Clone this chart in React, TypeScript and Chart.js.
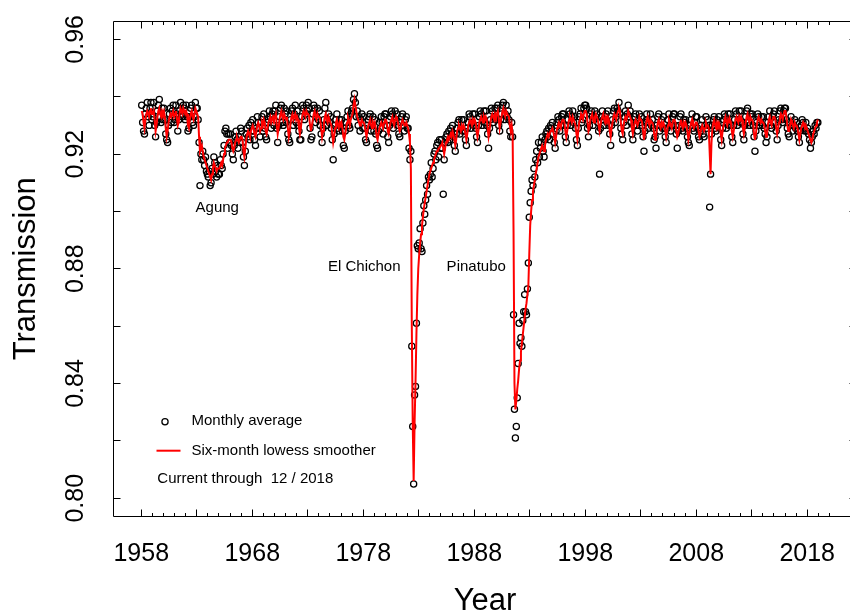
import React, { useEffect, useRef } from 'react';
import { Chart, registerables } from 'chart.js';

Chart.register(...registerables);

const START_YEAR = 1958;

// Monthly average transmission, one row per year (Jan..Dec)
const monthly1958to1967 = [
  0.937, 0.931, 0.928, 0.927, 0.934, 0.936, 0.938, 0.933, 0.930, 0.936, 0.938, 0.932,
  0.933, 0.938, 0.930, 0.926, 0.931, 0.935, 0.937, 0.939, 0.933, 0.931, 0.936, 0.932,
  0.936, 0.932, 0.927, 0.925, 0.924, 0.930, 0.934, 0.936, 0.931, 0.935, 0.937, 0.931,
  0.932, 0.937, 0.934, 0.928, 0.932, 0.935, 0.938, 0.934, 0.933, 0.937, 0.936, 0.932,
  0.937, 0.933, 0.928, 0.929, 0.933, 0.936, 0.937, 0.931, 0.930, 0.933, 0.938, 0.936,
  0.936, 0.932, 0.924, 0.909, 0.920, 0.918, 0.921, 0.918, 0.916, 0.919, 0.914, 0.913,
  0.912, 0.914, 0.909, 0.910, 0.915, 0.913, 0.919, 0.917, 0.914, 0.912, 0.916, 0.913,
  0.913, 0.918, 0.916, 0.915, 0.920, 0.923, 0.928, 0.929, 0.927, 0.922, 0.927, 0.924,
  0.927, 0.923, 0.920, 0.918, 0.923, 0.926, 0.928, 0.925, 0.922, 0.926, 0.924, 0.929,
  0.928, 0.924, 0.919, 0.916, 0.921, 0.927, 0.929, 0.926, 0.930, 0.925, 0.931, 0.928,
];
const monthly1968to1977 = [
  0.932, 0.928, 0.925, 0.923, 0.929, 0.933, 0.931, 0.929, 0.926, 0.931, 0.933, 0.928,
  0.934, 0.929, 0.926, 0.925, 0.931, 0.932, 0.935, 0.933, 0.929, 0.934, 0.935, 0.930,
  0.935, 0.937, 0.929, 0.924, 0.930, 0.933, 0.936, 0.937, 0.931, 0.930, 0.936, 0.934,
  0.931, 0.935, 0.927, 0.925, 0.924, 0.932, 0.935, 0.936, 0.930, 0.934, 0.937, 0.931,
  0.935, 0.930, 0.928, 0.925, 0.925, 0.933, 0.937, 0.936, 0.932, 0.934, 0.937, 0.935,
  0.938, 0.936, 0.929, 0.925, 0.926, 0.934, 0.937, 0.936, 0.931, 0.933, 0.936, 0.932,
  0.935, 0.930, 0.927, 0.924, 0.929, 0.932, 0.936, 0.938, 0.930, 0.932, 0.934, 0.931,
  0.933, 0.929, 0.925, 0.918, 0.927, 0.930, 0.932, 0.934, 0.929, 0.928, 0.932, 0.930,
  0.932, 0.928, 0.923, 0.922, 0.928, 0.931, 0.933, 0.935, 0.930, 0.929, 0.934, 0.935,
  0.936, 0.939, 0.941, 0.938, 0.933, 0.935, 0.930, 0.933, 0.928, 0.932, 0.934, 0.929,
];
const monthly1978to1987 = [
  0.933, 0.929, 0.925, 0.924, 0.930, 0.932, 0.933, 0.934, 0.928, 0.930, 0.933, 0.928,
  0.932, 0.927, 0.923, 0.922, 0.928, 0.931, 0.929, 0.933, 0.931, 0.927, 0.933, 0.934,
  0.934, 0.930, 0.926, 0.924, 0.930, 0.933, 0.935, 0.934, 0.929, 0.931, 0.935, 0.932,
  0.934, 0.930, 0.927, 0.926, 0.931, 0.933, 0.934, 0.930, 0.928, 0.932, 0.933, 0.929,
  0.929, 0.922, 0.918, 0.921, 0.853, 0.825, 0.805, 0.836, 0.839, 0.861, 0.888, 0.887,
  0.889, 0.894, 0.887, 0.886, 0.896, 0.902, 0.899, 0.904, 0.909, 0.906, 0.912, 0.911,
  0.913, 0.917, 0.912, 0.915, 0.920, 0.921, 0.918, 0.923, 0.924, 0.919, 0.925, 0.922,
  0.925, 0.922, 0.906, 0.918, 0.924, 0.926, 0.927, 0.924, 0.928, 0.925, 0.929, 0.927,
  0.930, 0.926, 0.923, 0.921, 0.927, 0.929, 0.931, 0.932, 0.927, 0.929, 0.932, 0.928,
  0.932, 0.928, 0.925, 0.923, 0.929, 0.931, 0.934, 0.933, 0.929, 0.931, 0.934, 0.930,
];
const monthly1988to1997 = [
  0.934, 0.929, 0.926, 0.924, 0.930, 0.933, 0.935, 0.934, 0.930, 0.932, 0.935, 0.931,
  0.935, 0.930, 0.927, 0.922, 0.929, 0.932, 0.936, 0.935, 0.931, 0.933, 0.936, 0.932,
  0.936, 0.937, 0.930, 0.928, 0.932, 0.934, 0.937, 0.938, 0.932, 0.934, 0.937, 0.933,
  0.935, 0.932, 0.928, 0.926, 0.931, 0.926, 0.864, 0.831, 0.821, 0.825, 0.835, 0.847,
  0.861, 0.854, 0.856, 0.853, 0.862, 0.865, 0.871, 0.865, 0.864, 0.873, 0.882, 0.898,
  0.903, 0.907, 0.911, 0.909, 0.915, 0.912, 0.918, 0.921, 0.917, 0.924, 0.919, 0.922,
  0.924, 0.926, 0.921, 0.919, 0.925, 0.927, 0.928, 0.926, 0.929, 0.925, 0.930, 0.929,
  0.931, 0.927, 0.924, 0.922, 0.928, 0.931, 0.933, 0.932, 0.928, 0.930, 0.933, 0.934,
  0.934, 0.930, 0.926, 0.924, 0.930, 0.932, 0.935, 0.934, 0.930, 0.933, 0.935, 0.931,
  0.933, 0.929, 0.925, 0.923, 0.929, 0.933, 0.934, 0.936, 0.931, 0.932, 0.936, 0.937,
];
const monthly1998to2007 = [
  0.937, 0.936, 0.929, 0.926, 0.930, 0.934, 0.935, 0.933, 0.930, 0.932, 0.935, 0.933,
  0.934, 0.931, 0.928, 0.913, 0.929, 0.933, 0.935, 0.932, 0.930, 0.933, 0.934, 0.931,
  0.935, 0.930, 0.927, 0.923, 0.930, 0.932, 0.935, 0.936, 0.931, 0.933, 0.936, 0.935,
  0.938, 0.934, 0.929, 0.927, 0.925, 0.931, 0.933, 0.935, 0.930, 0.934, 0.937, 0.933,
  0.935, 0.931, 0.927, 0.925, 0.930, 0.933, 0.934, 0.930, 0.928, 0.932, 0.934, 0.931,
  0.933, 0.930, 0.926, 0.921, 0.928, 0.931, 0.934, 0.932, 0.929, 0.931, 0.934, 0.930,
  0.932, 0.929, 0.925, 0.926, 0.922, 0.930, 0.933, 0.934, 0.928, 0.930, 0.932, 0.929,
  0.933, 0.929, 0.926, 0.924, 0.929, 0.932, 0.934, 0.930, 0.928, 0.930, 0.933, 0.934,
  0.934, 0.930, 0.927, 0.922, 0.928, 0.930, 0.933, 0.934, 0.929, 0.928, 0.932, 0.931,
  0.932, 0.929, 0.926, 0.924, 0.923, 0.930, 0.932, 0.934, 0.929, 0.928, 0.931, 0.933,
];
const monthly2008to2018 = [
  0.933, 0.929, 0.926, 0.925, 0.928, 0.930, 0.932, 0.927, 0.926, 0.930, 0.933, 0.929,
  0.932, 0.930, 0.9015, 0.913, 0.927, 0.930, 0.932, 0.933, 0.929, 0.928, 0.932, 0.931,
  0.933, 0.929, 0.925, 0.923, 0.929, 0.932, 0.934, 0.933, 0.929, 0.931, 0.934, 0.930,
  0.934, 0.930, 0.926, 0.924, 0.930, 0.932, 0.935, 0.934, 0.930, 0.932, 0.935, 0.931,
  0.935, 0.931, 0.927, 0.925, 0.930, 0.933, 0.935, 0.936, 0.931, 0.930, 0.934, 0.933,
  0.934, 0.930, 0.926, 0.921, 0.928, 0.931, 0.934, 0.933, 0.930, 0.931, 0.933, 0.930,
  0.933, 0.929, 0.927, 0.924, 0.926, 0.931, 0.933, 0.935, 0.930, 0.929, 0.933, 0.934,
  0.935, 0.931, 0.928, 0.925, 0.930, 0.932, 0.935, 0.936, 0.932, 0.931, 0.935, 0.936,
  0.936, 0.932, 0.929, 0.927, 0.926, 0.931, 0.933, 0.930, 0.928, 0.930, 0.932, 0.929,
  0.931, 0.928, 0.926, 0.924, 0.928, 0.930, 0.932, 0.931, 0.929, 0.928, 0.931, 0.928,
  0.929, 0.927, 0.925, 0.922, 0.924, 0.926, 0.928, 0.927, 0.930, 0.929, 0.931, 0.931,
];

// Six-month lowess smoother, one row per year (Jan..Dec)
const smooth1958to1967 = [
  0.935, 0.934, 0.931, 0.929, 0.932, 0.934, 0.935, 0.934, 0.933, 0.935, 0.936, 0.934,
  0.934, 0.935, 0.932, 0.928, 0.930, 0.933, 0.935, 0.936, 0.934, 0.933, 0.935, 0.934,
  0.935, 0.933, 0.929, 0.926, 0.928, 0.931, 0.933, 0.934, 0.933, 0.934, 0.935, 0.933,
  0.934, 0.935, 0.933, 0.930, 0.931, 0.934, 0.936, 0.935, 0.934, 0.936, 0.935, 0.934,
  0.935, 0.934, 0.930, 0.929, 0.932, 0.934, 0.935, 0.933, 0.932, 0.934, 0.936, 0.935,
  0.934, 0.933, 0.926, 0.921, 0.922, 0.923, 0.921, 0.919, 0.918, 0.917, 0.916, 0.915,
  0.914, 0.913, 0.912, 0.911, 0.913, 0.915, 0.917, 0.916, 0.915, 0.914, 0.915, 0.915,
  0.915, 0.916, 0.917, 0.916, 0.918, 0.920, 0.922, 0.923, 0.924, 0.924, 0.925, 0.925,
  0.925, 0.924, 0.922, 0.921, 0.922, 0.924, 0.925, 0.926, 0.925, 0.924, 0.925, 0.926,
  0.926, 0.925, 0.921, 0.919, 0.922, 0.925, 0.927, 0.928, 0.927, 0.926, 0.928, 0.929,
];
const smooth1968to1977 = [
  0.930, 0.929, 0.927, 0.926, 0.928, 0.930, 0.931, 0.930, 0.928, 0.929, 0.931, 0.930,
  0.932, 0.931, 0.928, 0.927, 0.929, 0.931, 0.932, 0.933, 0.931, 0.932, 0.933, 0.932,
  0.933, 0.934, 0.930, 0.927, 0.929, 0.932, 0.934, 0.935, 0.933, 0.932, 0.934, 0.933,
  0.932, 0.933, 0.929, 0.926, 0.928, 0.931, 0.933, 0.934, 0.932, 0.933, 0.934, 0.932,
  0.933, 0.932, 0.929, 0.927, 0.929, 0.932, 0.934, 0.935, 0.934, 0.933, 0.935, 0.934,
  0.934, 0.933, 0.930, 0.928, 0.930, 0.932, 0.934, 0.935, 0.933, 0.932, 0.934, 0.933,
  0.933, 0.932, 0.929, 0.926, 0.928, 0.931, 0.933, 0.934, 0.932, 0.931, 0.933, 0.932,
  0.931, 0.930, 0.927, 0.924, 0.926, 0.929, 0.931, 0.932, 0.930, 0.929, 0.931, 0.930,
  0.931, 0.929, 0.926, 0.925, 0.927, 0.929, 0.931, 0.933, 0.932, 0.930, 0.932, 0.933,
  0.934, 0.937, 0.939, 0.937, 0.935, 0.933, 0.932, 0.931, 0.930, 0.931, 0.932, 0.931,
];
const smooth1978to1987 = [
  0.931, 0.930, 0.928, 0.926, 0.928, 0.930, 0.931, 0.932, 0.930, 0.929, 0.931, 0.930,
  0.931, 0.929, 0.926, 0.925, 0.927, 0.929, 0.930, 0.931, 0.930, 0.929, 0.931, 0.932,
  0.932, 0.931, 0.928, 0.927, 0.929, 0.931, 0.932, 0.933, 0.931, 0.930, 0.932, 0.933,
  0.932, 0.931, 0.929, 0.928, 0.929, 0.931, 0.932, 0.931, 0.930, 0.930, 0.931, 0.930,
  0.929, 0.927, 0.924, 0.915, 0.860, 0.826, 0.806, 0.826, 0.840, 0.857, 0.871, 0.880,
  0.885, 0.889, 0.892, 0.895, 0.898, 0.901, 0.903, 0.905, 0.907, 0.909, 0.911, 0.913,
  0.914, 0.915, 0.916, 0.917, 0.918, 0.919, 0.920, 0.921, 0.921, 0.922, 0.922, 0.923,
  0.923, 0.924, 0.922, 0.920, 0.922, 0.924, 0.925, 0.926, 0.925, 0.926, 0.927, 0.926,
  0.928, 0.927, 0.925, 0.923, 0.925, 0.928, 0.929, 0.930, 0.929, 0.928, 0.930, 0.929,
  0.930, 0.929, 0.927, 0.925, 0.927, 0.930, 0.931, 0.932, 0.931, 0.930, 0.932, 0.931,
];
const smooth1988to1997 = [
  0.932, 0.931, 0.928, 0.926, 0.928, 0.931, 0.932, 0.933, 0.932, 0.931, 0.933, 0.932,
  0.933, 0.932, 0.929, 0.926, 0.928, 0.931, 0.933, 0.934, 0.933, 0.932, 0.934, 0.933,
  0.934, 0.935, 0.932, 0.929, 0.931, 0.933, 0.935, 0.936, 0.934, 0.933, 0.935, 0.934,
  0.934, 0.933, 0.930, 0.928, 0.930, 0.927, 0.893, 0.840, 0.831, 0.834, 0.838, 0.841,
  0.845, 0.848, 0.851, 0.854, 0.857, 0.860, 0.863, 0.866, 0.868, 0.871, 0.874, 0.885,
  0.895, 0.900, 0.904, 0.907, 0.909, 0.911, 0.913, 0.915, 0.917, 0.919, 0.920, 0.921,
  0.922, 0.923, 0.922, 0.921, 0.923, 0.925, 0.926, 0.927, 0.926, 0.927, 0.928, 0.928,
  0.929, 0.928, 0.926, 0.924, 0.926, 0.929, 0.930, 0.931, 0.930, 0.929, 0.931, 0.932,
  0.932, 0.931, 0.928, 0.926, 0.928, 0.930, 0.932, 0.933, 0.932, 0.931, 0.933, 0.932,
  0.931, 0.930, 0.927, 0.925, 0.928, 0.931, 0.932, 0.934, 0.933, 0.932, 0.934, 0.935,
];
const smooth1998to2007 = [
  0.935, 0.934, 0.931, 0.928, 0.929, 0.932, 0.933, 0.934, 0.932, 0.931, 0.933, 0.934,
  0.933, 0.932, 0.930, 0.928, 0.930, 0.932, 0.933, 0.934, 0.932, 0.931, 0.933, 0.932,
  0.933, 0.932, 0.928, 0.926, 0.929, 0.931, 0.933, 0.934, 0.933, 0.932, 0.934, 0.935,
  0.936, 0.935, 0.931, 0.928, 0.927, 0.930, 0.932, 0.933, 0.932, 0.933, 0.935, 0.934,
  0.933, 0.932, 0.929, 0.927, 0.929, 0.931, 0.932, 0.931, 0.930, 0.931, 0.933, 0.932,
  0.932, 0.931, 0.928, 0.925, 0.927, 0.930, 0.932, 0.933, 0.931, 0.930, 0.932, 0.931,
  0.931, 0.930, 0.927, 0.925, 0.926, 0.929, 0.931, 0.932, 0.930, 0.929, 0.931, 0.930,
  0.931, 0.930, 0.928, 0.926, 0.928, 0.930, 0.932, 0.931, 0.930, 0.929, 0.931, 0.932,
  0.932, 0.931, 0.928, 0.926, 0.927, 0.929, 0.931, 0.932, 0.930, 0.929, 0.931, 0.930,
  0.931, 0.930, 0.928, 0.925, 0.927, 0.929, 0.931, 0.932, 0.930, 0.929, 0.930, 0.931,
];
const smooth2008to2018 = [
  0.931, 0.930, 0.928, 0.926, 0.927, 0.929, 0.930, 0.929, 0.928, 0.929, 0.931, 0.930,
  0.930, 0.929, 0.921, 0.913, 0.924, 0.929, 0.931, 0.932, 0.930, 0.929, 0.931, 0.930,
  0.931, 0.930, 0.927, 0.925, 0.928, 0.930, 0.932, 0.933, 0.931, 0.930, 0.932, 0.931,
  0.932, 0.931, 0.928, 0.926, 0.928, 0.930, 0.932, 0.933, 0.932, 0.931, 0.933, 0.932,
  0.933, 0.932, 0.929, 0.927, 0.929, 0.931, 0.933, 0.934, 0.932, 0.931, 0.933, 0.932,
  0.932, 0.931, 0.927, 0.925, 0.927, 0.930, 0.932, 0.933, 0.932, 0.931, 0.932, 0.931,
  0.931, 0.930, 0.928, 0.926, 0.927, 0.930, 0.932, 0.933, 0.931, 0.930, 0.932, 0.933,
  0.933, 0.932, 0.929, 0.927, 0.929, 0.931, 0.933, 0.934, 0.933, 0.932, 0.934, 0.935,
  0.935, 0.933, 0.930, 0.928, 0.928, 0.930, 0.932, 0.931, 0.930, 0.929, 0.931, 0.930,
  0.930, 0.929, 0.927, 0.925, 0.927, 0.929, 0.930, 0.931, 0.930, 0.929, 0.930, 0.929,
  0.928, 0.927, 0.926, 0.925, 0.924, 0.925, 0.927, 0.928, 0.929, 0.930, 0.931, 0.932,
];

const monthlyAverage = [
  ...monthly1958to1967, ...monthly1968to1977, ...monthly1978to1987,
  ...monthly1988to1997, ...monthly1998to2007, ...monthly2008to2018,
];
const lowessSmoother = [
  ...smooth1958to1967, ...smooth1968to1977, ...smooth1978to1987,
  ...smooth1988to1997, ...smooth1998to2007, ...smooth2008to2018,
];

const xTickYears = [1958, 1968, 1978, 1988, 1998, 2008, 2018];
const yTickValues = [0.80, 0.84, 0.88, 0.92, 0.96];
const xMinorFirst = 1958;
const xMinorLast = 2020;
const yMinorStep = 0.02;

const volcanoLabels = [
  { text: 'Agung', year: 1964.85, value: 0.9011 },
  { text: 'El Chichon', year: 1978.09, value: 0.8808 },
  { text: 'Pinatubo', year: 1988.18, value: 0.8808 },
];

const X_MIN = 1955.5;
const X_MAX = 2022.44;
const Y_MIN = 0.79364;
const Y_MAX = 0.96639;

const FONT = '"Liberation Sans", Arial, Helvetica, sans-serif';
const CANVAS_W = 862;
const CANVAS_H = 613;
const POINT_R = 3.1;
const POINT_LW = 1.25;

const toPoints = (vals: number[]) =>
  vals.map((v, i) => ({ x: START_YEAR + (i + 0.5) / 12, y: v }));

const crisp = (v: number) => Math.floor(v) + 0.5;

const framePlugin = {
  id: 'rStyleFrame',
  afterDraw(chart: any) {
    const { ctx, chartArea: a } = chart;
    const xs = chart.scales.x;
    const ys = chart.scales.y;
    const L = crisp(a.left);
    const R = crisp(a.right);
    const T = crisp(a.top);
    const B = crisp(a.bottom);
    ctx.save();
    ctx.strokeStyle = '#000';
    ctx.lineWidth = 1;
    ctx.beginPath();
    ctx.rect(L, T, R - L, B - T);
    ctx.stroke();

    ctx.beginPath();
    for (let yr = xMinorFirst; yr <= xMinorLast; yr++) {
      const px = crisp(xs.getPixelForValue(yr));
      const len = (yr - xMinorFirst) % 5 === 0 ? 7 : 3.5;
      ctx.moveTo(px, B);
      ctx.lineTo(px, B - len);
      ctx.moveTo(px, T);
      ctx.lineTo(px, T + len);
    }
    for (let k = 0; k <= 8; k++) {
      const v = 0.8 + k * yMinorStep;
      const py = crisp(ys.getPixelForValue(v));
      ctx.moveTo(L, py);
      ctx.lineTo(L + 7, py);
      ctx.moveTo(R, py);
      ctx.lineTo(R - 7, py);
    }
    ctx.stroke();

    ctx.fillStyle = '#000';
    ctx.font = `25px ${FONT}`;
    ctx.textAlign = 'center';
    ctx.textBaseline = 'alphabetic';
    xTickYears.forEach((yr) => {
      ctx.fillText(String(yr), xs.getPixelForValue(yr), a.bottom + 44.7);
    });
    yTickValues.forEach((v) => {
      ctx.save();
      ctx.translate(a.left - 30.2, ys.getPixelForValue(v));
      ctx.rotate(-Math.PI / 2);
      ctx.fillText(v.toFixed(2), 0, 0);
      ctx.restore();
    });

    ctx.font = `31px ${FONT}`;
    ctx.fillText('Year', (a.left + a.right) / 2, 610);
    ctx.save();
    ctx.translate(35, (a.top + a.bottom) / 2);
    ctx.rotate(-Math.PI / 2);
    ctx.fillText('Transmission', 0, 0);
    ctx.restore();

    ctx.font = `15px ${FONT}`;
    ctx.textBaseline = 'middle';
    volcanoLabels.forEach((lab) => {
      ctx.fillText(lab.text, xs.getPixelForValue(lab.year), ys.getPixelForValue(lab.value));
    });

    // legend
    ctx.textAlign = 'left';
    ctx.lineWidth = POINT_LW;
    ctx.beginPath();
    ctx.arc(a.left + 51.5, a.top + 400.7, POINT_R, 0, Math.PI * 2);
    ctx.stroke();
    ctx.fillText('Monthly average', a.left + 78, a.top + 399.6);
    ctx.strokeStyle = '#ff0000';
    ctx.lineWidth = 2;
    ctx.beginPath();
    ctx.moveTo(a.left + 43, a.top + 429.7);
    ctx.lineTo(a.left + 67, a.top + 429.7);
    ctx.stroke();
    ctx.fillText('Six-month lowess smoother', a.left + 78, a.top + 429.5);
    ctx.fillText('Current through  12 / 2018', a.left + 43.8, a.top + 458);
    ctx.restore();
  },
};

export default function App() {
  const canvasRef = useRef<HTMLCanvasElement | null>(null);

  useEffect(() => {
    document.body.style.margin = '0';
    document.body.style.overflow = 'hidden';
    document.documentElement.style.overflow = 'hidden';
    const canvas = canvasRef.current;
    if (!canvas) return;
    const chart = new Chart(canvas, {
      type: 'scatter',
      data: {
        datasets: [
          {
            label: 'Six-month lowess smoother',
            data: toPoints(lowessSmoother),
            showLine: true,
            borderColor: '#ff0000',
            borderWidth: 2,
            pointRadius: 0,
            tension: 0,
            order: 0,
          },
          {
            label: 'Monthly average',
            data: toPoints(monthlyAverage),
            showLine: false,
            pointRadius: POINT_R,
            pointBorderWidth: POINT_LW,
            pointBorderColor: '#000',
            pointBackgroundColor: 'rgba(0,0,0,0)',
            order: 1,
          },
        ],
      },
      options: {
        animation: false,
        responsive: false,
        devicePixelRatio: 1,
        events: [],
        layout: {
          padding: { left: 113.5, top: 21, right: CANVAS_W - 856.5, bottom: CANVAS_H - 516.5 },
        },
        plugins: {
          legend: { display: false },
          tooltip: { enabled: false },
          title: { display: false },
        },
        scales: {
          x: { type: 'linear', min: X_MIN, max: X_MAX, display: false },
          y: { type: 'linear', min: Y_MIN, max: Y_MAX, display: false },
        },
      },
      plugins: [framePlugin],
    });
    return () => chart.destroy();
  }, []);

  return (
    <div style={{ width: 850, height: 613, overflow: 'hidden', background: '#fff' }}>
      <canvas
        ref={canvasRef}
        width={CANVAS_W}
        height={CANVAS_H}
        style={{ width: CANVAS_W, height: CANVAS_H, display: 'block' }}
      />
    </div>
  );
}
